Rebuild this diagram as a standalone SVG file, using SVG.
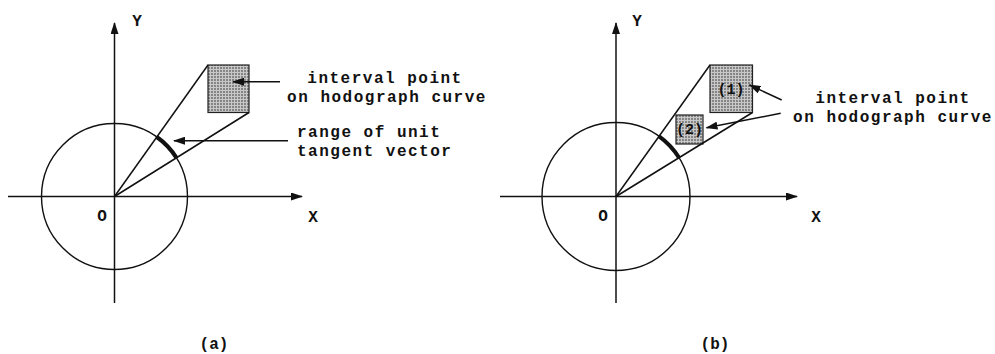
<svg xmlns="http://www.w3.org/2000/svg" width="995" height="354" viewBox="0 0 995 354">
<style>
.ln{stroke:#111;stroke-width:1.5;fill:none}
.arc{stroke:#111;stroke-width:4;fill:none}
.circ{stroke:#111;stroke-width:1.4;fill:none}
.ar{stroke:#111;stroke-width:1.5;fill:none;marker-end:url(#ah)}
.box{fill:url(#grid);stroke:#222;stroke-width:1.2}
.t{font-family:"Liberation Mono","Courier New",monospace;font-weight:bold;fill:#111}
.lab{font-size:16px;letter-spacing:1.5px}
.ax{font-size:16px}
.num{font-size:15px}
</style>
<defs>
<pattern id="grid" width="3" height="3" patternUnits="userSpaceOnUse">
<rect width="3" height="3" fill="#858585"/>
<rect width="3" height="1" fill="#c8c8c8"/>
<rect width="1" height="3" fill="#c8c8c8"/>
</pattern>
<marker id="ah" markerWidth="12" markerHeight="8" refX="11" refY="4" orient="auto" markerUnits="userSpaceOnUse">
<path d="M0,0 L12,4 L0,8 Z" fill="#111"/>
</marker>
</defs>
<g id="panel-a">
<g id="a-axes">
<line class="ar" x1="114.5" y1="303" x2="114.5" y2="23"/>
<line class="ar" x1="8" y1="196.5" x2="302" y2="196.5"/>
<text class="t ax" x="137" y="26" text-anchor="middle">Y</text>
<text class="t ax" x="313" y="222" text-anchor="middle">X</text>
<text class="t ax" x="102" y="221" text-anchor="middle">O</text>
</g>
<g id="a-circle"><circle class="circ" cx="114.5" cy="196.5" r="73"/></g>
<g id="a-box"><rect class="box" x="208" y="65" width="41" height="47.5"/></g>
<g id="a-connectors">
<line class="ln" x1="114.5" y1="196.5" x2="208" y2="65"/>
<line class="ln" x1="114.5" y1="196.5" x2="249" y2="112.5"/>
<path class="arc" d="M156.8,137 A73,73 0 0 1 176.5,157.9"/>
<line class="ar" x1="280" y1="81.7" x2="233" y2="81.7"/>
<line class="ar" x1="288" y1="140.7" x2="174" y2="140.7"/>
</g>
<g id="a-label1">
<text class="t lab" x="385" y="83" text-anchor="middle">interval point</text>
<text class="t lab" x="387" y="101.5" text-anchor="middle">on hodograph curve</text>
</g>
<g id="a-label2">
<text class="t lab" x="297" y="136.5">range of unit</text>
<text class="t lab" x="297" y="155.5">tangent vector</text>
</g>
<text class="t ax" x="214" y="349" text-anchor="middle">(a)</text>
</g>
<g id="panel-b">
<g id="b-axes">
<line class="ar" x1="616" y1="303" x2="616" y2="23"/>
<line class="ar" x1="500" y1="196.5" x2="797" y2="196.5"/>
<text class="t ax" x="637" y="26" text-anchor="middle">Y</text>
<text class="t ax" x="816" y="222" text-anchor="middle">X</text>
<text class="t ax" x="603" y="221" text-anchor="middle">O</text>
</g>
<g id="b-circle"><circle class="circ" cx="616" cy="196.5" r="74"/></g>
<g id="b-box1">
<rect class="box" x="710" y="65" width="42.5" height="47.5"/>
<text class="t num" x="731" y="94" text-anchor="middle">(1)</text>
</g>
<g id="b-box2">
<rect class="box" x="676" y="115" width="27" height="29"/>
<text class="t num" x="689.5" y="134" text-anchor="middle">(2)</text>
</g>
<g id="b-connectors">
<line class="ln" x1="616" y1="196.5" x2="710" y2="65"/>
<line class="ln" x1="616" y1="196.5" x2="752.5" y2="112.5"/>
<path class="arc" d="M659.1,136.3 A74,74 0 0 1 679.1,157.8"/>
<line class="ar" x1="781.7" y1="100" x2="749.5" y2="85"/>
<line class="ar" x1="780.7" y1="113.3" x2="706.5" y2="127.7"/>
</g>
<g id="b-label">
<text class="t lab" x="893" y="103" text-anchor="middle">interval point</text>
<text class="t lab" x="893" y="121.5" text-anchor="middle">on hodograph curve</text>
</g>
<text class="t ax" x="715" y="349" text-anchor="middle">(b)</text>
</g>
</svg>
